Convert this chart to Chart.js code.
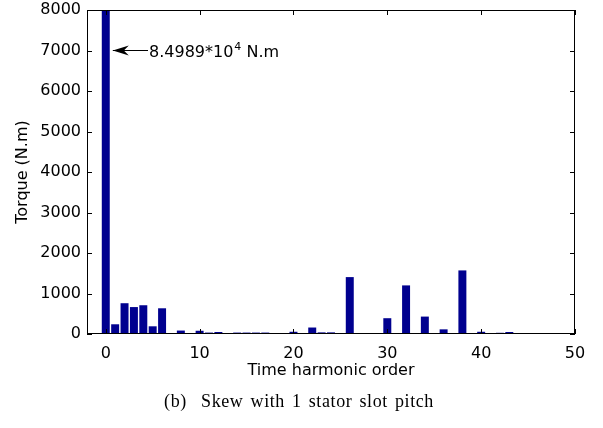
<!DOCTYPE html>
<html>
<head>
<meta charset="utf-8">
<script src="https://cdn.jsdelivr.net/npm/chart.js@4.4.1/dist/chart.umd.min.js"></script>
<style>
    html, body { margin: 0; padding: 0; background: #fff; }
    #wrap { width: 603px; height: 428px; }
</style>
</head>
<body>
<div id="wrap"><canvas id="graph"></canvas></div>
<script>
// time harmonic order and torque amplitude (N.m)
var orders = [];
for (var k = 0; k <= 50; k++) orders.push(k);
var torque = [84989, 240, 760, 665, 710, 190, 635, 10, 85, 8,
              80, 35, 50, 15, 35, 35, 35, 35, 15, 10,
              55, 10, 160, 40, 40, 10, 1405, 15, 15, 10,
              390, 10, 1200, 10, 430, 10, 115, 10, 1570, 10,
              55, 10, 30, 50, 10, 10, 15, 10, 20, 20,
              10];
var yTicks = [0, 1000, 2000, 3000, 4000, 5000, 6000, 7000, 8000];
var xTicks = [0, 10, 20, 30, 40, 50];

var annotation = { x: 0.75, y: 7000, textX: 4.5, base: "8.4989*10", sup: "4", tail: " N.m" };
var caption = "(b)  Skew with 1 stator slot pitch";

var FONT = "'DejaVu Sans'";

// box, inward ticks, arrow annotation and caption
var matlabFrame = {
    id: 'matlabFrame',
    afterDraw: function(chart) {
        var c = chart.ctx;
        var a = chart.chartArea;
        var xs = chart.scales.x, ys = chart.scales.y;
        c.save();
        c.strokeStyle = '#000';
        c.lineWidth = 1;
        c.strokeRect(a.left + 0.5, a.top + 0.5, a.right - a.left - 1, a.bottom - a.top - 1);
        c.beginPath();
        yTicks.forEach(function(v) {
            var py = Math.round(ys.getPixelForValue(v)) + 0.5;
            c.moveTo(a.left, py); c.lineTo(a.left + 5, py);
            c.moveTo(a.right, py); c.lineTo(a.right - 5, py);
        });
        xTicks.forEach(function(v) {
            var px = Math.round(xs.getPixelForValue(v)) + 0.5;
            c.moveTo(px, a.bottom); c.lineTo(px, a.bottom - 5);
            c.moveTo(px, a.top); c.lineTo(px, a.top + 5);
        });
        c.stroke();

        // arrow
        var tipX = xs.getPixelForValue(annotation.x);
        var py = ys.getPixelForValue(annotation.y);
        var endX = xs.getPixelForValue(annotation.textX);
        c.beginPath();
        c.moveTo(tipX, py); c.lineTo(endX, py);
        c.stroke();
        c.beginPath();
        c.moveTo(tipX, py);
        c.lineTo(tipX + 16, py - 5);
        c.lineTo(tipX + 11, py);
        c.lineTo(tipX + 16, py + 5);
        c.closePath();
        c.fillStyle = '#000';
        c.fill();

        c.textBaseline = 'alphabetic';
        c.textAlign = 'left';
        c.font = "16px " + FONT;
        var bx = endX + 1, by = py + 6;
        c.fillText(annotation.base, bx, by);
        bx += c.measureText(annotation.base).width;
        c.font = "11px " + FONT;
        c.fillText(annotation.sup, bx + 1, by - 7);
        bx += c.measureText(annotation.sup).width + 1;
        c.font = "16px " + FONT;
        c.fillText(annotation.tail, bx, by);

        c.font = "18px 'Liberation Serif'";
        c.letterSpacing = '0.6px';
        c.wordSpacing = '2px';
        c.textAlign = 'center';
        c.textBaseline = 'middle';
        c.fillText(caption, 299, 402);
        c.restore();
    }
};

Chart.defaults.color = '#000';
Chart.defaults.font.family = FONT;
Chart.defaults.font.size = 16;

var ctx = document.getElementById('graph');
var myChart = new Chart(ctx, {
    type: 'bar',
    data: {
        datasets: [{
            data: orders.map(function(o, i) { return { x: o, y: torque[i] }; }),
            backgroundColor: '#00008f',
            borderWidth: 0,
            barPercentage: 0.85,
            categoryPercentage: 1
        }]
    },
    options: {
        responsive: true,
        maintainAspectRatio: false,
        animation: false,
        layout: { padding: { left: 0, top: 10, right: 28, bottom: 0 } },
        plugins: { legend: { display: false }, tooltip: { enabled: false } },
        scales: {
            x: {
                type: 'linear',
                min: -2,
                max: 50,
                offset: false,
                afterBuildTicks: function(s) {
                    s.ticks = xTicks.map(function(v) { return { value: v }; });
                },
                afterFit: function(s) { s.height = 94; s.paddingLeft = 0; s.paddingRight = 0; },
                grid: { display: false, drawTicks: false, offset: false },
                border: { display: false },
                ticks: { padding: 10, maxRotation: 0, autoSkip: false },
                title: { display: true, text: 'Time harmonic order', padding: { top: 0, bottom: 48 } }
            },
            y: {
                min: 0,
                max: 8000,
                afterBuildTicks: function(s) {
                    s.ticks = yTicks.map(function(v) { return { value: v }; });
                },
                afterFit: function(s) { s.width = 87; s.paddingTop = 0; s.paddingBottom = 0; },
                grid: { display: false, drawTicks: false },
                border: { display: false },
                ticks: { padding: 6, callback: function(v) { return String(v); } },
                title: { display: true, text: 'Torque (N.m)', padding: { top: 13, bottom: 0 } }
            }
        }
    },
    plugins: [matlabFrame]
});
</script>
</body>
</html>
